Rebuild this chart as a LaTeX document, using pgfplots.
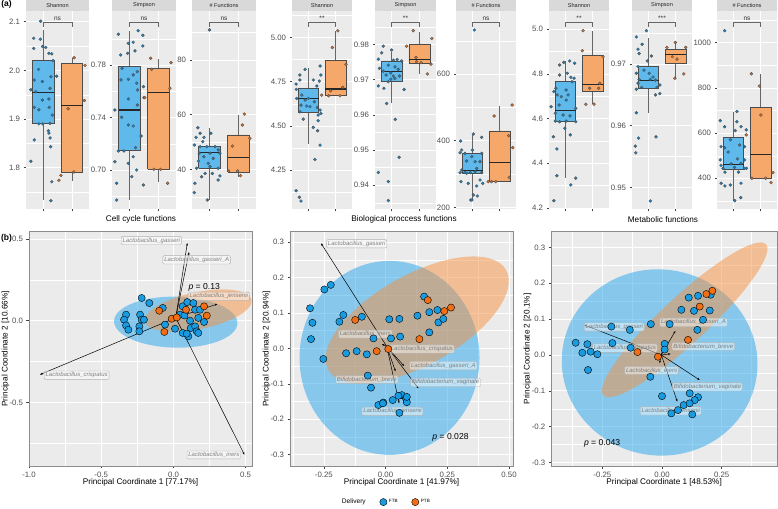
\documentclass[border=0pt]{standalone}
\usepackage{fontspec}
\setmainfont{Liberation Sans}
\usepackage{pgfplots}
\pgfplotsset{compat=1.18}
\usetikzlibrary{arrows.meta}
\definecolor{panelgray}{RGB}{235,235,235}
\definecolor{stripgray}{RGB}{217,217,217}
\definecolor{ftb}{RGB}{25,155,225}
\definecolor{ptb}{RGB}{240,110,20}
\definecolor{ftbfill}{RGB}{95,185,235}
\definecolor{ptbfill}{RGB}{245,168,105}
\definecolor{ftbpt}{RGB}{35,125,180}
\definecolor{ptbpt}{RGB}{205,110,45}
\definecolor{ftbell}{RGB}{35,165,235}
\definecolor{ptbell}{RGB}{245,145,65}
\pgfplotsset{
 toppanel/.style={scale only axis, anchor=south west, height=198pt,
  xmin=0.4, xmax=2.6, xtick={1,2}, xticklabels={,,},
  scaled y ticks=false, scaled x ticks=false,
  axis x line*=bottom, axis y line*=left, axis line style={draw=none},
  axis background/.style={fill=panelgray},
  xmajorgrids, ymajorgrids, yminorgrids,
  major grid style={white, line width=0.55pt},
  minor grid style={white, line width=0.3pt},
  tick align=outside, major tick length=2.5pt, minor tick length=0pt,
  tick style={black!75, line width=0.45pt},
  yticklabel style={font=\fontsize{7.8}{8}\selectfont, text=black!70},
  clip=false},
 jf/.style={only marks, mark=*, mark size=1.5pt, mark options={fill=ftbpt, draw=black!70, line width=0.3pt}},
 jp/.style={only marks, mark=*, mark size=1.5pt, mark options={fill=ptbpt, draw=black!70, line width=0.3pt}},
 pcoa/.style={scale only axis, anchor=south west, height=234.3pt,
  axis background/.style={fill=panelgray},
  axis line style={black!45, line width=0.6pt},
  xmajorgrids, ymajorgrids, xminorgrids, yminorgrids,
  major grid style={white, line width=0.55pt},
  minor grid style={white, line width=0.3pt},
  tick align=outside, major tick length=2.5pt, minor tick length=0pt,
  tick style={black!75, line width=0.45pt}, tick pos=left,
  tick label style={font=\fontsize{7.8}{9}\selectfont, text=black!70},
  label style={font=\fontsize{8.2}{9}\selectfont, text=black},
  xlabel style={at={(axis description cs:0.5,-0.068)}, anchor=center},
  ylabel style={at={(axis description cs:-0.105,0.5)}, anchor=center}},
 pf/.style={only marks, mark=*, mark size=3.6pt, mark options={fill=ftb, draw=black, line width=0.4pt}},
 pp/.style={only marks, mark=*, mark size=3.6pt, mark options={fill=ptb, draw=black, line width=0.4pt}},
 arr/.style={black, line width=0.5pt, -{Stealth[length=2.6pt,width=2pt]}, forget plot},
}
\tikzset{lab/.style={font=\fontsize{6}{7}\selectfont\itshape, text=black!50, fill=white, fill opacity=0.45, text opacity=1, draw=black!30, rounded corners=1.2pt, inner sep=1.4pt, line width=0.4pt},
 ptxt/.style={font=\fontsize{8.6}{9}\selectfont}}
\newcommand{\strip}[1]{\fill[stripgray] (rel axis cs:0,1) rectangle ([yshift=11pt]rel axis cs:1,1);
 \node[font=\fontsize{5.6}{6}\selectfont, text=black!85] at ([yshift=5.5pt]rel axis cs:0.5,1) {#1};}
\newcommand{\sig}[1]{\draw[black!60, line width=0.45pt] (rel axis cs:0.2727,0.921) -- (rel axis cs:0.2727,0.941) -- (rel axis cs:0.7273,0.941) -- (rel axis cs:0.7273,0.921);
 \node[font=\fontsize{6.5}{7}\selectfont, text=black!80, anchor=base, inner sep=0pt] at (rel axis cs:0.5,0.952) {#1};}
% box: #1 left, #2 centre, #3 right, #4 lower whisker, #5 Q1, #6 median, #7 Q3, #8 upper whisker, #9 fill
\newcommand{\bx}[9]{%
 \addplot[black!60, line width=0.5pt, forget plot] coordinates {(#2,#4) (#2,#5)};
 \addplot[black!60, line width=0.5pt, forget plot] coordinates {(#2,#7) (#2,#8)};
 \addplot[fill=#9, draw=black!70, line width=0.5pt, forget plot] coordinates {(#1,#5) (#3,#5) (#3,#7) (#1,#7) (#1,#5)};
 \addplot[black!85, line width=1.1pt, forget plot] coordinates {(#1,#6) (#3,#6)};}
\begin{document}
\begin{tikzpicture}
\useasboundingbox (0,0) rectangle (778pt,508pt);
% ---------------- (a) Cell cycle ----------------
\begin{axis}[toppanel, at={(26pt,299pt)}, width=63pt, ymin=1.715, ymax=2.122,
 ytick={1.8,1.9,2.0,2.1}, yticklabels={1.8,1.9,2.0,2.1}, minor ytick={1.75,1.85,1.95,2.05}]
\bx{0.625}{1}{1.375}{1.734}{1.891}{1.955}{2.020}{2.082}{ftbfill}
\bx{1.625}{2}{2.375}{1.773}{1.791}{1.928}{2.015}{2.025}{ptbfill}
\addplot[jf] coordinates {(0.91,2.101) (0.67,2.066) (0.90,2.064) (1.09,2.047) (0.67,2.045) (0.98,2.049) (1.20,2.035) (1.30,2.034) (1.34,2.020) (0.84,2.002) (0.69,1.980) (0.97,1.977) (1.27,1.987) (1.47,1.988) (0.57,1.960) (0.74,1.956) (1.24,1.963) (0.97,1.939) (1.20,1.941) (0.69,1.924) (1.21,1.924) (0.85,1.919) (1.32,1.908) (0.85,1.890) (0.98,1.890) (1.24,1.891) (1.18,1.876) (1.20,1.871) (1.24,1.861) (1.26,1.843) (0.69,1.857) (0.57,1.813) (1.30,1.771) (1.27,1.732)};
\addplot[jp] coordinates {(2.46,2.010) (2.44,1.938) (1.87,1.921) (2.08,2.026) (2.07,1.791) (1.62,1.784) (1.55,1.774)};
\strip{Shannon}\sig{ns}
\end{axis}
\begin{axis}[toppanel, at={(112pt,299pt)}, width=64pt, ymin=0.6703, ymax=0.8211,
 ytick={0.70,0.74,0.78}, yticklabels={0.70,0.74,0.78}, minor ytick={0.68,0.72,0.76,0.80}]
\bx{0.625}{1}{1.375}{0.6771}{0.7152}{0.7457}{0.7787}{0.8061}{ftbfill}
\bx{1.625}{2}{2.375}{0.6911}{0.7008}{0.7589}{0.7775}{0.7843}{ptbfill}
\addplot[jf] coordinates {(0.62,0.8034) (1.30,0.8061) (1.46,0.8026) (0.96,0.7965) (1.13,0.7973) (1.46,0.7945) (1.19,0.7907) (0.94,0.7889) (0.70,0.7876) (0.75,0.7775) (1.27,0.7749) (1.13,0.7724) (0.96,0.7691) (0.71,0.7686) (1.25,0.7661) (1.48,0.7635) (1.28,0.7610) (0.96,0.7541) (1.50,0.7551) (0.50,0.7457) (1.27,0.7495) (0.73,0.7402) (0.96,0.7343) (1.13,0.7335) (1.40,0.7259) (0.62,0.7145) (0.81,0.7145) (1.21,0.7170) (1.13,0.7101) (0.50,0.7063) (0.96,0.7051) (1.25,0.7000) (1.08,0.6949) (0.56,0.6899) (1.48,0.6886) (0.56,0.6771)};
\addplot[jp] coordinates {(1.73,0.7851) (2.43,0.7818) (1.76,0.7767) (2.39,0.7622) (1.53,0.7551) (1.84,0.7005) (2.07,0.7005) (2.31,0.6899)};
\strip{Simpson}\sig{ns}
\end{axis}
\begin{axis}[toppanel, at={(192pt,299pt)}, width=64pt, ymin=25.5, ymax=97.9,
 ytick={40,60,80}, yticklabels={40,60,80}, minor ytick={30,50,70,90}]
\bx{0.625}{1}{1.375}{28.8}{40.4}{46.1}{48.3}{55.0}{ftbfill}
\bx{1.625}{2}{2.375}{37.3}{39.1}{44.4}{52.6}{59.9}{ptbfill}
\addplot[jf] coordinates {(1.00,91.0) (0.60,55.2) (0.68,53.2) (1.05,53.2) (0.54,51.7) (0.81,51.7) (0.77,50.1) (0.48,48.9) (0.68,48.3) (0.91,48.3) (1.19,48.3) (1.30,47.1) (0.65,45.9) (1.02,45.9) (1.36,45.9) (0.81,44.6) (1.13,44.0) (0.62,43.0) (0.96,42.2) (0.56,40.4) (1.02,41.0) (1.30,40.4) (0.85,38.5) (1.10,38.5) (0.73,37.3) (1.36,37.6) (0.50,34.9) (1.30,36.1) (0.48,31.5) (0.93,28.8)};
\addplot[jp] coordinates {(2.20,60.2) (2.13,56.2) (2.39,51.4) (1.79,48.5) (1.97,39.4) (1.66,39.4) (2.07,37.7)};
\strip{\# Functions}\sig{ns}
\end{axis}
% ---------------- Biological process ----------------
\begin{axis}[toppanel, at={(292pt,299pt)}, width=60pt, ymin=4.030, ymax=5.149,
 ytick={4.25,4.50,4.75,5.00}, yticklabels={4.25,4.50,4.75,5.00}, minor ytick={4.125,4.375,4.625,4.875,5.125}]
\bx{0.625}{1}{1.375}{4.40}{4.576}{4.655}{4.712}{4.828}{ftbfill}
\bx{1.625}{2}{2.375}{4.674}{4.674}{4.708}{4.868}{5.037}{ptbfill}
\addplot[jf] coordinates {(0.55,4.736) (0.69,4.787) (0.69,4.759) (0.88,4.819) (1.18,4.759) (1.43,4.838) (1.46,4.787) (1.40,4.753) (1.31,4.725) (0.56,4.706) (0.76,4.674) (0.57,4.655) (0.88,4.646) (1.00,4.655) (1.22,4.636) (0.73,4.617) (0.94,4.612) (1.06,4.608) (1.33,4.604) (1.43,4.589) (1.46,4.570) (0.69,4.579) (1.36,4.561) (0.81,4.538) (1.36,4.529) (1.18,4.491) (1.34,4.472) (1.43,4.391) (1.24,4.310) (0.55,4.133) (0.67,4.096) (0.73,4.075)};
\addplot[jp] coordinates {(2.08,5.037) (1.88,4.943) (2.38,4.847) (2.26,4.717) (1.82,4.698) (1.49,4.674) (1.74,4.670) (2.16,4.670)};
\strip{Shannon}\sig{**}
\end{axis}
\begin{axis}[toppanel, at={(375pt,299pt)}, width=61pt, ymin=0.9332, ymax=0.9895,
 ytick={0.94,0.95,0.96,0.97,0.98}, yticklabels={0.94,0.95,0.96,0.97,0.98}, minor ytick={0.935,0.945,0.955,0.965,0.975,0.985}]
\bx{0.625}{1}{1.375}{0.9634}{0.9694}{0.9722}{0.9753}{0.9779}{ftbfill}
\bx{1.625}{2}{2.375}{0.9716}{0.9746}{0.9757}{0.9800}{0.9836}{ptbfill}
\addplot[jf] coordinates {(0.70,0.9795) (1.00,0.9784) (0.64,0.9776) (0.52,0.9758) (1.06,0.9755) (1.20,0.9757) (1.36,0.9753) (0.88,0.9741) (0.56,0.9732) (1.12,0.9736) (1.24,0.9729) (0.70,0.9724) (0.97,0.9719) (0.80,0.9713) (1.06,0.9710) (1.28,0.9710) (0.97,0.9701) (1.12,0.9703) (0.88,0.9694) (0.52,0.9682) (0.72,0.9675) (1.45,0.9672) (0.82,0.9632) (1.13,0.9587) (1.27,0.9479) (0.52,0.9436) (0.88,0.9410) (0.88,0.9356)};
\addplot[jp] coordinates {(1.78,0.9839) (1.54,0.9795) (2.45,0.9817) (1.88,0.9763) (1.90,0.9751) (2.06,0.9748) (2.42,0.9744) (2.29,0.9716)};
\strip{Simpson}\sig{**}
\end{axis}
\begin{axis}[toppanel, at={(456pt,299pt)}, width=60pt, ymin=195, ymax=789,
 ytick={200,400,600}, yticklabels={200,400,600}, minor ytick={300,500,700}]
\bx{0.625}{1}{1.375}{222}{302}{310}{362}{417}{ftbfill}
\bx{1.625}{2}{2.375}{277}{277}{334}{429}{504}{ptbfill}
\addplot[jf] coordinates {(1.07,732) (0.57,399) (1.04,420) (1.34,410) (0.61,372) (0.55,364) (1.00,372) (0.73,362) (0.98,352) (1.34,362) (0.79,339) (1.10,337) (1.28,337) (0.55,304) (0.73,304) (0.92,304) (1.10,307) (1.34,304) (1.16,317) (0.58,277) (0.85,272) (1.28,282) (1.16,264) (1.38,272) (1.04,237) (1.18,234) (0.94,222) (0.98,222) (0.61,312) (0.79,302)};
\addplot[jp] coordinates {(2.46,507) (1.80,474) (2.33,415) (2.48,379) (2.35,290) (1.58,277) (1.70,277) (1.86,277)};
\strip{\# Functions}\sig{ns}
\end{axis}
% ---------------- Metabolic ----------------
\begin{axis}[toppanel, at={(549pt,299pt)}, width=60pt, ymin=4.195, ymax=5.082,
 ytick={4.2,4.4,4.6,4.8,5.0}, yticklabels={4.2,4.4,4.6,4.8,5.0}, minor ytick={4.3,4.5,4.7,4.9}]
\bx{0.625}{1}{1.375}{4.333}{4.586}{4.636}{4.768}{4.859}{ftbfill}
\bx{1.625}{2}{2.375}{4.665}{4.721}{4.751}{4.882}{4.994}{ptbfill}
\addplot[jf] coordinates {(1.16,4.858) (0.94,4.852) (0.79,4.840) (1.34,4.848) (1.07,4.803) (0.79,4.795) (1.20,4.785) (1.32,4.781) (1.25,4.765) (0.65,4.736) (1.03,4.728) (0.58,4.721) (0.70,4.706) (1.10,4.706) (0.85,4.698) (1.03,4.683) (0.77,4.661) (0.48,4.653) (1.38,4.646) (0.63,4.624) (0.92,4.616) (1.17,4.612) (0.63,4.589) (0.79,4.586) (1.03,4.589) (1.38,4.586) (0.98,4.557) (1.18,4.527) (0.56,4.519) (0.69,4.464) (0.69,4.344) (1.38,4.333) (1.20,4.303) (0.58,4.232)};
\addplot[jp] coordinates {(1.65,4.994) (1.62,4.904) (2.38,4.877) (1.89,4.736) (2.26,4.758) (2.22,4.736) (1.75,4.664) (2.05,4.665)};
\strip{Shannon}\sig{**}
\end{axis}
\begin{axis}[toppanel, at={(632pt,299pt)}, width=60pt, ymin=0.9465, ymax=0.9786,
 ytick={0.95,0.96,0.97}, yticklabels={0.95,0.96,0.97}, minor ytick={0.955,0.965,0.975}]
\bx{0.625}{1}{1.375}{0.9621}{0.9661}{0.9674}{0.9696}{0.9743}{ftbfill}
\bx{1.625}{2}{2.375}{0.9676}{0.9701}{0.9715}{0.9724}{0.9736}{ptbfill}
\addplot[jf] coordinates {(0.93,0.9754) (0.56,0.9744) (0.77,0.9732) (0.62,0.9724) (0.66,0.9717) (1.11,0.9713) (0.96,0.9705) (0.62,0.9696) (0.84,0.9690) (0.56,0.9685) (1.03,0.9685) (1.17,0.9679) (1.07,0.9675) (1.26,0.9674) (0.66,0.9675) (0.62,0.9669) (1.42,0.9666) (1.32,0.9662) (0.56,0.9659) (0.75,0.9662) (1.26,0.9650) (1.42,0.9652) (0.56,0.9621) (0.64,0.9580) (1.28,0.9582) (0.52,0.9567) (0.54,0.9556) (1.07,0.9478)};
\addplot[jp] coordinates {(1.99,0.9735) (2.37,0.9727) (1.68,0.9727) (1.88,0.9712) (2.05,0.9708) (1.97,0.9677) (2.30,0.9684)};
\strip{Simpson}\sig{***}
\end{axis}
\begin{axis}[toppanel, at={(717pt,299pt)}, width=60pt, ymin=264, ymax=1140,
 ytick={400,600,800,1000}, yticklabels={400,600,800,1000}, minor ytick={300,500,700,900,1100}]
\bx{0.625}{1}{1.375}{301}{441}{462}{580}{692}{ftbfill}
\bx{1.625}{2}{2.375}{400}{400}{507}{712}{862}{ptbfill}
\addplot[jf] coordinates {(0.68,1053) (0.52,655) (0.68,628) (1.13,695) (1.13,650) (1.28,628) (1.07,611) (1.47,614) (0.89,570) (0.55,540) (0.68,535) (1.23,547) (1.41,540) (0.81,516) (0.52,481) (1.15,486) (0.92,464) (0.55,457) (1.28,466) (1.41,481) (0.62,444) (1.04,448) (1.41,444) (1.48,444) (0.69,427) (1.19,427) (0.55,378) (0.89,370) (1.28,378) (0.69,366) (1.05,301) (1.27,314)};
\addplot[jp] coordinates {(1.66,862) (1.95,808) (2.01,680) (1.47,592) (1.68,400) (2.38,381) (2.45,425) (2.18,400)};
\strip{\# Functions}\sig{ns}
\end{axis}
\node[font=\fontsize{8.2}{9}\selectfont] at (141pt,288.5pt) {Cell cycle functions};
\node[font=\fontsize{8.2}{9}\selectfont] at (404pt,288.5pt) {Biological proccess functions};
\node[font=\fontsize{8.2}{9}\selectfont] at (663pt,288.5pt) {Metabolic functions};
\node[font=\fontsize{8.5}{9}\selectfont\bfseries] at (6.5pt,504pt) {(a)};
\node[font=\fontsize{8.5}{9}\selectfont\bfseries] at (6.5pt,269.7pt) {(b)};
% ---------------- (b) PCoA 1 ----------------
\begin{axis}[pcoa, at={(29pt,42pt)}, width=223pt, xmin=-1.0, xmax=0.544, ymin=-0.890, ymax=0.545,
 xtick={-1,-0.5,0,0.5}, xticklabels={-1.0,-0.5,0.0,0.5}, minor xtick={-0.75,-0.25,0.25},
 ytick={-0.5,0,0.5}, yticklabels={-0.5,0.0,0.5}, minor ytick={-0.75,-0.25,0.25},
 xlabel={Principal Coordinate 1 [77.17\%]}, ylabel={Principal Coordinate 2 [10.66\%]}]
\fill[ftbell, fill opacity=0.5, rotate around={-1:(axis cs:0.016,-0.009)}] (axis cs:0.016,-0.009) ellipse [x radius=61.7pt, y radius=25.5pt];
\fill[ptbell, fill opacity=0.5, rotate around={11.5:(axis cs:0.172,0.062)}] (axis cs:0.172,0.062) ellipse [x radius=54.4pt, y radius=18.5pt];
\addplot[pf] coordinates {(-0.220,0.139) (-0.167,0.108) (-0.328,0.037) (-0.342,0.006) (-0.328,-0.029) (-0.312,-0.055) (-0.231,0.037) (-0.220,0.006) (-0.204,0.006) (-0.236,-0.035) (-0.236,-0.065) (-0.074,0.078) (-0.058,-0.024) (0.011,-0.049) (0.046,0.037) (0.064,0.088) (0.096,0.114) (0.138,0.108) (0.150,0.067) (0.184,0.067) (0.076,0.032) (0.115,0.000) (0.172,0.017) (0.212,-0.008) (0.064,-0.075) (0.103,-0.096) (0.120,-0.045) (0.150,-0.035) (0.161,-0.065) (0.172,-0.075) (0.092,-0.080)};
\addplot[pp] coordinates {(-0.098,0.061) (-0.012,0.012) (0.023,0.020) (-0.063,-0.069) (0.087,0.067) (0.212,0.088) (0.231,0.031)};
\addplot[arr] coordinates {(0.016,0.018) (0.096,0.475)};
\addplot[arr] coordinates {(0.016,0.018) (0.108,0.420)};
\addplot[arr] coordinates {(0.016,0.018) (0.304,0.102)};
\addplot[arr] coordinates {(0.016,0.018) (-0.924,-0.330)};
\addplot[arr] coordinates {(0.016,0.018) (0.491,-0.820)};
\node[lab] at (axis cs:-0.153,0.491) {Lactobacillus\_gasseri};
\node[lab] at (axis cs:0.161,0.373) {Lactobacillus\_gasseri\_A};
\node[lab] at (axis cs:0.314,0.149) {Lactobacillus\_jensenii};
\node[lab] at (axis cs:-0.670,-0.334) {Lactobacillus\_crispatus};
\node[lab] at (axis cs:0.280,-0.822) {Lactobacillus\_iners};
\node[ptxt] at (axis cs:0.213,0.202) {{\itshape p} = 0.13};
\end{axis}
% ---------------- PCoA 2 ----------------
\begin{axis}[pcoa, at={(290pt,42pt)}, width=223pt, xmin=-0.387, xmax=0.516, ymin=-0.332, ymax=0.329,
 xtick={-0.25,0,0.25,0.5}, xticklabels={-0.25,0.00,0.25,0.50}, minor xtick={-0.375,-0.125,0.125,0.375},
 ytick={-0.3,-0.2,-0.1,0,0.1,0.2,0.3}, yticklabels={-0.3,-0.2,-0.1,0.0,0.1,0.2,0.3}, minor ytick={-0.25,-0.15,-0.05,0.05,0.15,0.25},
 xlabel={Principal Coordinate 1 [41.97\%]}, ylabel={Principal Coordinate 2 [20.94\%]},
 legend style={at={(axis description cs:0.43,-0.154)}, anchor=center, draw=none, fill=none,
  font=\fontsize{4.6}{6}\selectfont, /tikz/every even column/.append style={column sep=12pt}},
 legend columns=-1, legend cell align=left]
\fill[ftbell, fill opacity=0.5] (axis cs:0.016,-0.027) ellipse [x radius=90pt, y radius=97pt];
\fill[ptbell, fill opacity=0.5, rotate around={29.3:(axis cs:0.128,0.080)}] (axis cs:0.128,0.080) ellipse [x radius=102pt, y radius=45pt];
\addlegendimage{empty legend}\addlegendentry{\fontsize{6.6}{8}\selectfont Delivery}
\addplot[pf] coordinates {(-0.248,0.166) (-0.222,0.179) (-0.306,0.113) (-0.296,0.072) (-0.302,0.026) (-0.252,-0.030) (-0.171,0.094) (-0.187,0.075) (-0.096,0.089) (-0.160,-0.014) (-0.117,-0.008) (-0.076,-0.017) (-0.049,0.028) (0.015,0.082) (0.056,0.083) (0.022,0.028) (0.059,0.033) (0.129,0.092) (0.156,0.146) (0.177,0.102) (0.210,0.108) (0.214,0.073) (0.234,0.083) (0.177,0.045) (-0.072,-0.077) (-0.059,-0.111) (-0.029,-0.160) (-0.009,-0.153) (0.029,-0.146) (0.066,-0.132) (0.082,-0.141) (0.086,-0.152) (0.086,-0.137) (0.056,-0.182) (-0.011,-0.155) (0.052,-0.134)};
\addlegendentry{FTB}
\addplot[pp] coordinates {(-0.123,0.080) (-0.036,-0.008) (0.137,0.026) (0.171,0.136) (0.238,0.105) (0.265,0.115) (0.011,-0.002)};
\addlegendentry{PTB}
\addplot[arr] coordinates {(0.005,0.005) (-0.261,0.296)};
\addplot[arr] coordinates {(0.005,0.005) (-0.015,0.012)};
\addplot[arr] coordinates {(0.005,0.005) (0.020,-0.005)};
\addplot[arr] coordinates {(0.005,0.005) (0.075,-0.050)};
\addplot[arr] coordinates {(0.005,0.005) (0.133,-0.113)};
\addplot[arr] coordinates {(0.005,0.005) (0.040,-0.065)};
\addplot[arr] coordinates {(0.005,0.005) (0.055,-0.155)};
\node[lab] at (axis cs:-0.117,0.295) {Lactobacillus\_gasseri};
\node[lab] at (axis cs:-0.082,0.040) {Lactobacillus\_iners};
\node[lab] at (axis cs:0.147,-0.002) {Lactobacillus\_crispatus};
\node[lab] at (axis cs:0.234,-0.049) {Lactobacillus\_gasseri\_A};
\node[lab] at (axis cs:0.243,-0.096) {Bifidobacterium\_vaginale};
\node[lab] at (axis cs:-0.076,-0.088) {Bifidobacterium\_breve};
\node[lab] at (axis cs:0.028,-0.178) {Lactobacillus\_jensenii};
\node[ptxt] at (axis cs:0.263,-0.250) {{\itshape p} = 0.028};
\end{axis}
% ---------------- PCoA 3 ----------------
\begin{axis}[pcoa, at={(551.3pt,42pt)}, width=225.7pt, xmin=-0.464, xmax=0.482, ymin=-0.310, ymax=0.344,
 xtick={-0.25,0,0.25}, xticklabels={-0.25,0.00,0.25}, minor xtick={-0.375,-0.125,0.125,0.375},
 ytick={-0.3,-0.2,-0.1,0,0.1,0.2,0.3}, yticklabels={-0.3,-0.2,-0.1,0.0,0.1,0.2,0.3}, minor ytick={-0.25,-0.15,-0.05,0.05,0.15,0.25},
 xlabel={Principal Coordinate 1 [48.53\%]}, ylabel={Principal Coordinate 2 [20.1\%]}]
\fill[ftbell, fill opacity=0.5, rotate around={-10:(axis cs:-0.010,-0.021)}] (axis cs:-0.010,-0.021) ellipse [x radius=98pt, y radius=93pt];
\fill[ptbell, fill opacity=0.5, rotate around={42.9:(axis cs:0.095,0.098)}] (axis cs:0.095,0.098) ellipse [x radius=111pt, y radius=23pt];
\addplot[pf] coordinates {(-0.362,0.034) (-0.313,0.030) (-0.334,0.006) (-0.299,0.009) (-0.271,0.002) (-0.310,-0.042) (-0.212,0.079) (-0.208,0.033) (-0.135,0.070) (-0.131,0.020) (-0.047,0.086) (0.032,0.086) (0.011,0.031) (0.011,0.015) (-0.049,-0.061) (0.112,0.160) (0.151,0.165) (0.204,0.168) (0.081,0.126) (0.134,0.123) (0.200,0.124) (0.172,0.098) (0.148,0.070) (0.000,-0.115) (0.116,-0.107) (0.151,-0.118) (0.137,-0.126) (0.091,-0.140) (0.067,-0.154) (0.039,-0.163) (0.127,-0.166) (0.116,-0.135)};
\addplot[pp] coordinates {(0.211,0.179) (0.186,0.170) (0.158,0.135) (0.109,0.042) (-0.103,0.008) (-0.017,-0.005)};
\addplot[arr] coordinates {(-0.003,0.0) (-0.327,0.084)};
\addplot[arr] coordinates {(-0.003,0.0) (0.056,0.067)};
\addplot[arr] coordinates {(-0.003,0.0) (0.036,0.003)};
\addplot[arr] coordinates {(-0.003,0.0) (-0.010,-0.023)};
\addplot[arr] coordinates {(-0.003,0.0) (0.158,-0.070)};
\addplot[arr] coordinates {(-0.003,0.0) (0.064,-0.130)};
\addplot[arr] coordinates {(-0.003,0.0) (0.011,0.037)};
\node[lab] at (axis cs:-0.200,0.078) {Lactobacillus\_gasseri};
\node[lab] at (axis cs:0.132,0.091) {Lactobacillus\_gasseri\_A};
\node[lab] at (axis cs:-0.156,0.019) {Lactobacillus\_crispatus};
\node[lab] at (axis cs:0.173,0.024) {Bifidobacterium\_breve};
\node[lab] at (axis cs:-0.044,-0.043) {Lactobacillus\_iners};
\node[lab] at (axis cs:0.190,-0.089) {Bifidobacterium\_vaginale};
\node[lab] at (axis cs:0.037,-0.156) {Lactobacillus\_jensenii};
\node[ptxt] at (axis cs:-0.251,-0.247) {{\itshape p} = 0.043};
\end{axis}
\end{tikzpicture}
\end{document}
